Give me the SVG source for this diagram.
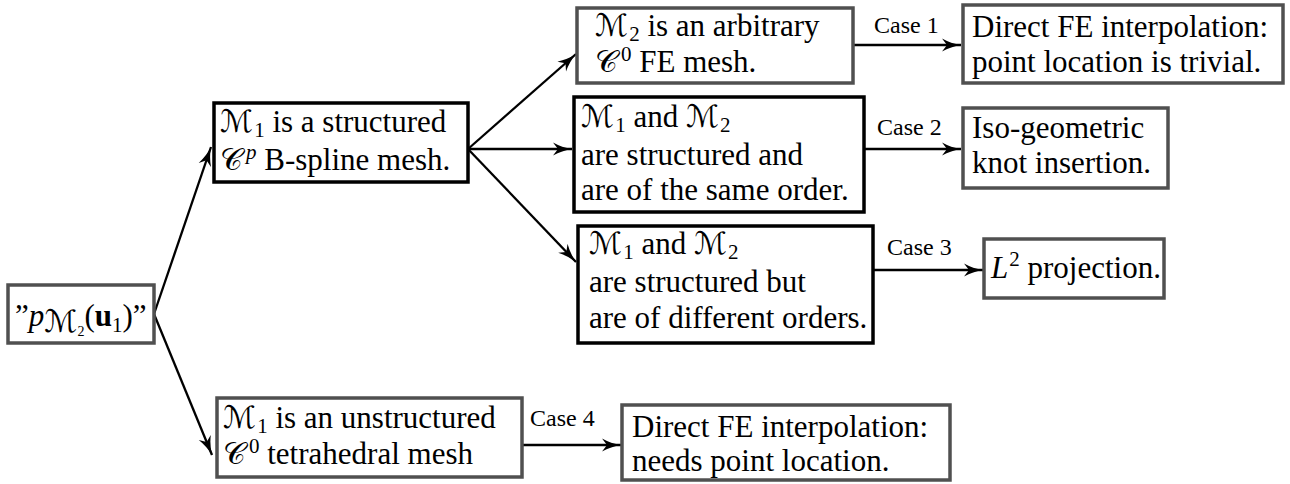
<svg xmlns="http://www.w3.org/2000/svg" width="1290" height="484" viewBox="0 0 1290 484" font-family="'Liberation Serif', 'DejaVu Serif', serif">
<style>
  .box{fill:#fff;stroke-width:3.5}
  .g{stroke:#505050}
  .k{stroke:#000}
  text{font-family:"Liberation Serif","DejaVu Serif",serif;font-size:31px;fill:#000}
  .cal{font-family:"DejaVu Serif","DejaVu Sans","Liberation Serif",serif;font-size:31px}
  .sub{font-size:21px}
  .sup{font-size:21px}
  .it{font-style:italic}
  .case{font-size:24px}
  .con{stroke:#000;stroke-width:2.3;fill:none;marker-end:url(#ah)}
</style>
<defs>
  <marker id="ah" markerUnits="userSpaceOnUse" markerWidth="20" markerHeight="14" refX="19" refY="7" orient="auto" viewBox="0 0 20 14">
    <path d="M0,0.5 Q9,5.5 19,7 Q9,8.5 0,13.5 L5,7 Z" fill="#000"/>
  </marker>
</defs>

<g id="connectors">
  <line class="con" x1="154" y1="314" x2="211" y2="147"/>
  <line class="con" x1="154" y1="314" x2="212" y2="455"/>
  <line class="con" x1="468" y1="149" x2="576" y2="54"/>
  <line class="con" x1="468" y1="149" x2="572" y2="149"/>
  <line class="con" x1="468" y1="149" x2="576" y2="262"/>
  <line class="con" x1="853" y1="45" x2="961" y2="45"/>
  <line class="con" x1="864" y1="149" x2="961" y2="149"/>
  <line class="con" x1="873" y1="270" x2="983" y2="270"/>
  <line class="con" x1="522" y1="445" x2="621" y2="445"/>
  <text class="case" x="874" y="33">Case 1</text>
  <text class="case" x="877" y="135">Case 2</text>
  <text class="case" x="887" y="255">Case 3</text>
  <text class="case" x="530" y="426">Case 4</text>
</g>

<g id="nodeA">
  <rect class="box g" x="8" y="285" width="146" height="58"/>
  <text x="15" y="326">”<tspan class="it">p</tspan><tspan class="cal" font-size="21" dy="6">ℳ</tspan><tspan font-size="14" dy="4">2</tspan><tspan dy="-10">(</tspan><tspan font-weight="bold">u</tspan><tspan class="sub" dy="6">1</tspan><tspan dy="-6">)”</tspan></text>
</g>

<g id="nodeB">
  <rect class="box k" x="214" y="103" width="254" height="79"/>
  <text x="220" y="132"><tspan class="cal">ℳ</tspan><tspan class="sub" dx="1" dy="5">1</tspan><tspan dy="-5"> is a structured</tspan></text>
  <text x="220" y="170"><tspan class="cal">𝒞</tspan><tspan class="sup it" dx="3" dy="-11">p</tspan><tspan dy="11"> B-spline mesh.</tspan></text>
</g>

<g id="nodeI">
  <rect class="box g" x="217" y="398" width="305" height="79"/>
  <text x="223" y="428"><tspan class="cal">ℳ</tspan><tspan class="sub" dx="1" dy="5">1</tspan><tspan dy="-5"> is an unstructured</tspan></text>
  <text x="223" y="464"><tspan class="cal">𝒞</tspan><tspan class="sup" dx="3" dy="-11">0</tspan><tspan dy="11"> tetrahedral mesh</tspan></text>
</g>

<g id="nodeC">
  <rect class="box g" x="577" y="8" width="276" height="75"/>
  <text x="595" y="36"><tspan class="cal">ℳ</tspan><tspan class="sub" dx="1" dy="5">2</tspan><tspan dy="-5"> is an arbitrary</tspan></text>
  <text x="595" y="72"><tspan class="cal">𝒞</tspan><tspan class="sup" dx="3" dy="-11">0</tspan><tspan dy="11"> FE mesh.</tspan></text>
</g>

<g id="nodeD">
  <rect class="box k" x="574" y="97" width="290" height="115"/>
  <text x="581" y="127"><tspan class="cal">ℳ</tspan><tspan class="sub" dx="1" dy="5">1</tspan><tspan dy="-5"> and </tspan><tspan class="cal">ℳ</tspan><tspan class="sub" dx="1" dy="5">2</tspan></text>
  <text x="581" y="165">are structured and</text>
  <text x="581" y="200">are of the same order.</text>
</g>

<g id="nodeE">
  <rect class="box k" x="578" y="226" width="295" height="117"/>
  <text x="589" y="254"><tspan class="cal">ℳ</tspan><tspan class="sub" dx="1" dy="5">1</tspan><tspan dy="-5"> and </tspan><tspan class="cal">ℳ</tspan><tspan class="sub" dx="1" dy="5">2</tspan></text>
  <text x="589" y="292">are structured but</text>
  <text x="589" y="328">are of different orders.</text>
</g>

<g id="nodeF">
  <rect class="box g" x="963" y="5" width="320" height="78"/>
  <text x="972" y="37">Direct FE interpolation:</text>
  <text x="972" y="72">point location is trivial.</text>
</g>

<g id="nodeG">
  <rect class="box g" x="963" y="108" width="205" height="80"/>
  <text x="972" y="138">Iso-geometric</text>
  <text x="972" y="173">knot insertion.</text>
</g>

<g id="nodeH">
  <rect class="box g" x="984" y="239" width="180" height="59"/>
  <text x="991" y="278"><tspan class="it">L</tspan><tspan class="sup" dx="1" dy="-12">2</tspan><tspan dy="12"> projection.</tspan></text>
</g>

<g id="nodeJ">
  <rect class="box g" x="622" y="405" width="328" height="75"/>
  <text x="632" y="437">Direct FE interpolation:</text>
  <text x="632" y="471">needs point location.</text>
</g>
</svg>
